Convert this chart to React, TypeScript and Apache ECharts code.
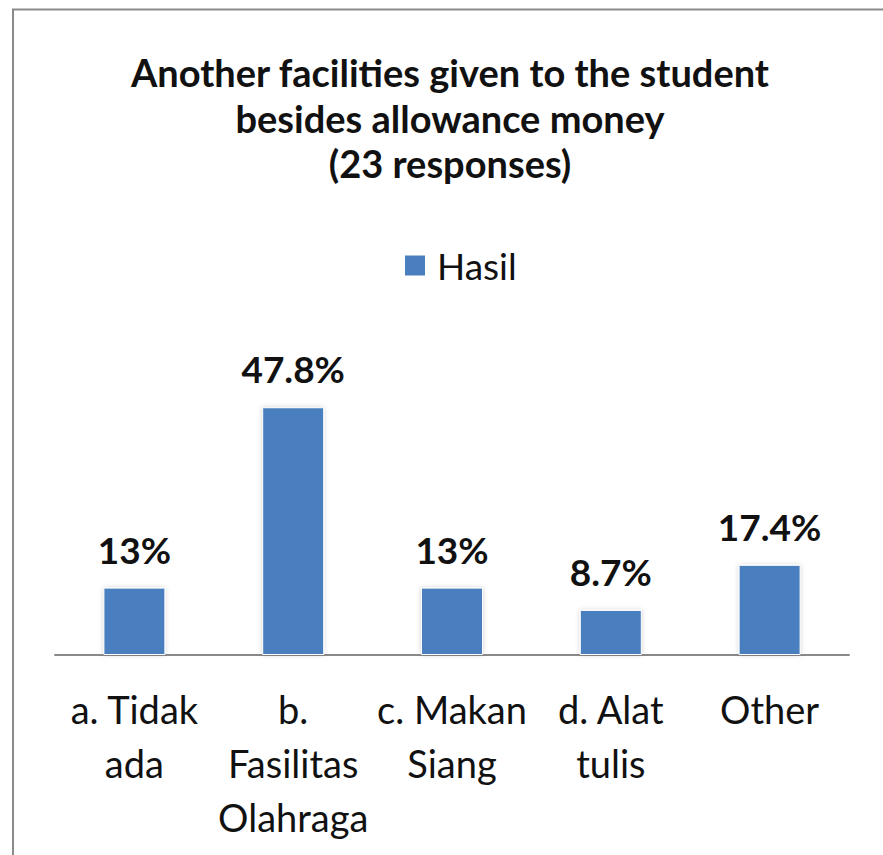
import React, { useEffect, useRef } from "react";
import * as echarts from "echarts";

const titleLines = [
  "Another facilities given to the student",
  "besides allowance money",
  "(23 responses)",
];
const seriesName = "Hasil";
const categories = [
  "a. Tidak\nada",
  "b.\nFasilitas\nOlahraga",
  "c. Makan\nSiang",
  "d. Alat\ntulis",
  "Other",
];
const values = [13, 47.8, 13, 8.7, 17.4];

const FONT = "Lato, 'Noto Sans', sans-serif";

export default function App() {
  const ref = useRef<HTMLDivElement>(null);
  useEffect(() => {
    if (!ref.current) return;
    const chart = echarts.init(ref.current, undefined, { renderer: "svg" });
    chart.setOption({
      animation: false,
      backgroundColor: "#ffffff",
      textStyle: { fontFamily: FONT },
      graphic: [
        {
          type: "rect",
          shape: { x: 13, y: 9.5, width: 1000, height: 1000 },
          style: { fill: "none", stroke: "#8a8a8a", lineWidth: 2 },
          silent: true,
        },
        ...titleLines.map((t, i) => ({
          type: "text",
          x: 450,
          y: 72 + i * 45.5,
          style: {
            text: t,
            align: "center",
            verticalAlign: "middle",
            fontFamily: FONT,
            fontSize: 38,
            fontWeight: "bold",
            fill: "#111111",
          },
        })),
      ],
      legend: {
        data: [seriesName],
        left: 398,
        top: 242,
        icon: "rect",
        itemWidth: 22,
        itemHeight: 22,
        textStyle: {
          fontFamily: FONT,
          fontSize: 37,
          color: "#111111",
          padding: [0, 0, 0, 6],
        },
      },
      grid: { left: 55, right: 34, top: 344, bottom: 200, containLabel: false },
      xAxis: {
        type: "category",
        data: categories,
        axisLine: { show: true, lineStyle: { color: "#8a8a8a", width: 2 } },
        axisTick: { show: false },
        axisLabel: {
          interval: 0,
          margin: 27,
          fontFamily: FONT,
          fontSize: 38,
          lineHeight: 54,
          color: "#111111",
        },
      },
      yAxis: {
        type: "value",
        min: 0,
        max: 60,
        interval: 10,
        show: false,
        splitLine: { show: false },
      },
      series: [
        {
          name: seriesName,
          type: "bar",
          data: values,
          barWidth: 62,
          itemStyle: {
            color: "#4a7fbe",
            borderColor: "#ffffff",
            borderWidth: 1,
            shadowColor: "rgba(0,0,0,0.18)",
            shadowBlur: 5,
          },
          label: {
            show: true,
            position: "top",
            distance: 20,
            formatter: (p: any) => p.value + "%",
            fontFamily: FONT,
            fontSize: 37,
            fontWeight: "bold",
            color: "#111111",
          },
        },
      ],
    });
    return () => chart.dispose();
  }, []);
  return (
    <div
      ref={ref}
      style={{ position: "fixed", left: 0, top: 0, width: 883, height: 855 }}
    />
  );
}
